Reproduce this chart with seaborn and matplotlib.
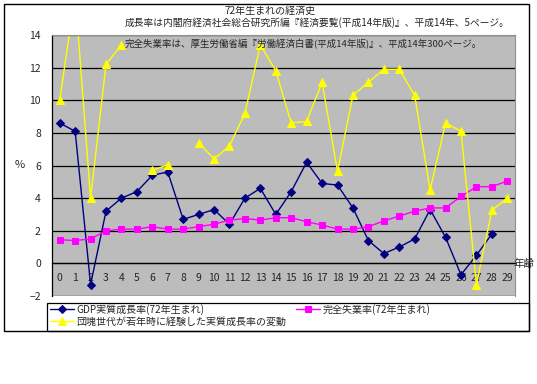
import numpy as np
import pandas as pd
import matplotlib
matplotlib.use("Agg")
import matplotlib.pyplot as plt
import seaborn as sns
from matplotlib.patches import Rectangle

ages = list(range(30))
gdp = [8.6, 8.1, -1.3, 3.2, 4.0, 4.4, 5.4, 5.6, 2.7, 3.0, 3.3, 2.4, 4.0, 4.6, 3.0,
       4.4, 6.2, 4.9, 4.8, 3.4, 1.4, 0.6, 1.0, 1.5, 3.3, 1.6, -0.7, 0.5, 1.8, np.nan]
unemp = [1.45, 1.4, 1.5, 2.0, 2.1, 2.1, 2.25, 2.1, 2.1, 2.25, 2.4, 2.65, 2.75, 2.65, 2.8,
         2.8, 2.55, 2.35, 2.1, 2.1, 2.25, 2.6, 2.9, 3.2, 3.4, 3.4, 4.1, 4.7, 4.7, 5.05]
boomer = [10.0, 16.5, 4.0, 12.2, 13.4, np.nan, 5.7, 6.05, np.nan, 7.4, 6.4, 7.2, 9.2, 13.4, 11.8,
          8.6, 8.7, 11.1, 5.65, 10.3, 11.1, 11.9, 11.9, 10.3, 4.5, 8.6, 8.1, -1.3, 3.25, 4.0]

lab_gdp = "GDP実質成長率(72年生まれ)"
lab_unemp = "完全失業率(72年生まれ)"
lab_boom = "団塊世代が若年時に経験した実質成長率の変動"
title1 = "72年生まれの経済史"
title2 = "成長率は内閣府経済社会総合研究所編『経済要覧(平成14年版)』、平成14年、5ページ。"
title3 = "完全失業率は、厚生労働省編『労働経済白書(平成14年版)』、平成14年300ページ。"

sns.set_style("white")
plt.rcParams['font.family'] = ['Noto Sans CJK JP', 'DejaVu Sans']

fig = plt.figure(figsize=(5.37, 3.84), dpi=100)
W, H = 537, 384
L, R, T, B = 52, 515, 35, 296
ax = fig.add_axes([L / W, 1 - B / H, (R - L) / W, (B - T) / H])
ax.set_facecolor('#bcbcbc')

df = pd.DataFrame({'age': ages, 'gdp': gdp, 'unemp': unemp, 'boomer': boomer})
df['seg'] = np.cumsum(pd.isna(df['boomer']).astype(int))

sns.lineplot(data=df.dropna(subset=['gdp']), x='age', y='gdp', ax=ax, color='#000080',
             marker='D', markersize=4.5, markeredgecolor='#000080', linewidth=1, label=lab_gdp)
sns.lineplot(data=df, x='age', y='unemp', ax=ax, color='#ff00ff', marker='s', markersize=5,
             markeredgecolor='#ff00ff', linewidth=1, label=lab_unemp)
sns.lineplot(data=df.dropna(subset=['boomer']), x='age', y='boomer', units='seg', estimator=None,
             ax=ax, color='#ffff00', marker='^', markersize=6, markeredgecolor='#ffff00',
             linewidth=1, label=lab_boom)

ax.set_xlim(-0.5, 29.5)
ax.set_ylim(-2, 14)
ax.set_yticks(range(-2, 15, 2))
ax.set_yticklabels([str(v) if v >= 0 else "−2" for v in range(-2, 15, 2)], fontsize=7.5)
ax.yaxis.grid(True, color='black', linewidth=0.9)
ax.set_axisbelow(True)
ax.tick_params(axis='y', length=0, pad=8)

ax.spines['bottom'].set_position(('data', 0))
ax.spines['bottom'].set_color('black')
ax.spines['bottom'].set_linewidth(0.9)
ax.spines['left'].set_color('black')
ax.spines['left'].set_linewidth(0.9)
ax.spines['top'].set_color('#909090')
ax.spines['right'].set_color('#909090')
ax.set_xticks(ages)
ax.set_xticklabels([str(a) for a in ages], fontsize=7.5)
ax.set_xticks(np.arange(0.5, 29.5, 1), minor=True)
ax.tick_params(axis='x', which='major', length=0, pad=7)
ax.tick_params(axis='x', which='minor', length=3, direction='in', color='black', width=0.8)
ax.set_xlabel('')
ax.set_ylabel('')
ax.legend_.remove()

fig.text(20 / W, 1 - 165 / H, '%', fontsize=8, ha='center', va='center')
fig.text(524 / W, 1 - 264 / H, '年齢', fontsize=7.5, ha='center', va='center')
fig.text(270 / W, 1 - 11 / H, title1, fontsize=7.2, ha='center', va='center')
fig.text(125 / W, 1 - 23 / H, title2, fontsize=7.0, ha='left', va='center')
fig.text(125 / W, 1 - 44 / H, title3, fontsize=6.8, ha='left', va='center')

handles, labels = ax.get_legend_handles_labels()
lkw = dict(fontsize=7.2, frameon=False, borderpad=0, labelspacing=0.15,
           handlelength=2.4, handletextpad=0.25, borderaxespad=0, loc='upper left')
leg1 = fig.legend([handles[0], handles[2]], [labels[0], labels[2]],
                  bbox_to_anchor=(50 / W, 1 - 304 / H), **lkw)
leg2 = fig.legend([handles[1]], [labels[1]],
                  bbox_to_anchor=(296 / W, 1 - 304 / H), **lkw)

fig.patches.append(Rectangle((47 / W, 1 - 331 / H), (529 - 47) / W, (331 - 303) / H,
                             transform=fig.transFigure, fill=False, edgecolor='black', linewidth=0.9))
fig.patches.append(Rectangle((4 / W, 1 - 331 / H), (529 - 4) / W, (331 - 4) / H,
                             transform=fig.transFigure, fill=False, edgecolor='black', linewidth=1))

fig.savefig('out.png', dpi=100)
